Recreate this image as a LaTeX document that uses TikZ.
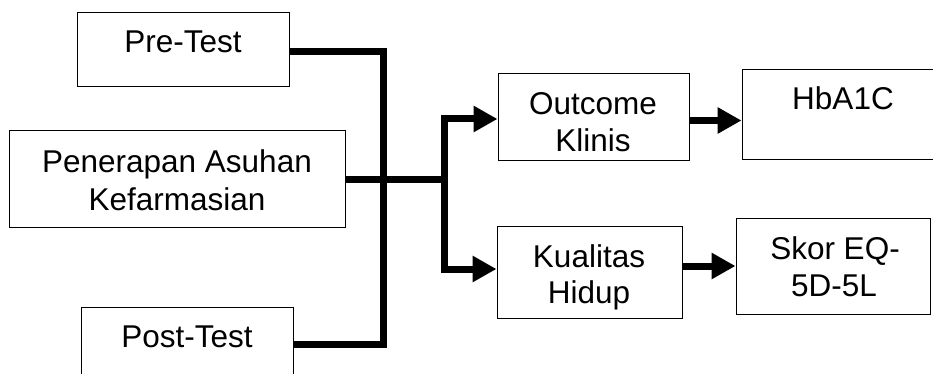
\documentclass[tikz,border=0pt]{standalone}
\usepackage{fontspec}
\setmainfont{Liberation Sans}
\usetikzlibrary{arrows.meta,calc}
\begin{document}
\begin{tikzpicture}[x=1pt,y=-1pt,
  box/.style={draw=black,line width=1pt,inner sep=0pt,rectangle},
  txt/.style={anchor=base,inner sep=0pt,font=\fontsize{31.5}{37}\selectfont},
  conn/.style={line width=7pt,line join=miter,black},
  arr/.style={conn,-{Triangle[length=24pt,width=25pt]}}]
\useasboundingbox (0,0) rectangle (933,374);
\clip (0,0) rectangle (933,374);
% boxes
\node[box,minimum width=212pt,minimum height=74pt] (pre) at (183,50) {};
\node[box,minimum width=336pt,minimum height=96pt] (pen) at (177,179) {};
\node[box,minimum width=212pt,minimum height=74pt] (post) at (187,344) {};
\node[box,minimum width=191pt,minimum height=87pt] (out) at (593.5,117.5) {};
\node[box,minimum width=202pt,minimum height=90pt] (hba) at (843,115) {};
\node[box,minimum width=185pt,minimum height=92pt] (kua) at (589.5,272) {};
\node[box,minimum width=194pt,minimum height=96pt] (sko) at (833,266) {};
% texts
\node[txt] (tpre) at (183,53) {Pre-Test};
\node[txt] (tpen1) at (177,172) {Penerapan Asuhan};
\node[txt] (tpen2) at (177,210) {Kefarmasian};
\node[txt] (tpost) at (187,347) {Post-Test};
\node[txt] (tout1) at (593,115) {Outcome};
\node[txt] (tout2) at (593,152) {Klinis};
\node[txt] (thba) at (843,110) {HbA1C};
\node[txt] (tkua1) at (589,267) {Kualitas};
\node[txt] (tkua2) at (589,303) {Hidup};
\node[txt] (tsko1) at (835,259) {Skor EQ-};
\node[txt] (tsko2) at (834,296) {5D-5L};
% connectors
\coordinate (spine) at (383.5,179);
\coordinate (br) at (444.5,179);
\draw[conn] ([yshift=-2pt]pre.east) -| (spine) |- (post.east);
\draw[conn] (pen.east) -- (br);
\draw[arr] (br) |- ([yshift=-1.5pt]out.west);
\draw[arr] (br) |- ([yshift=3pt]kua.west);
\draw[arr] ([yshift=-3pt]out.east) -- ([yshift=-3pt]out.east -| hba.west);
\draw[arr] ([yshift=6pt]kua.east) -- ([yshift=6pt]kua.east -| sko.west);
\end{tikzpicture}
\end{document}
